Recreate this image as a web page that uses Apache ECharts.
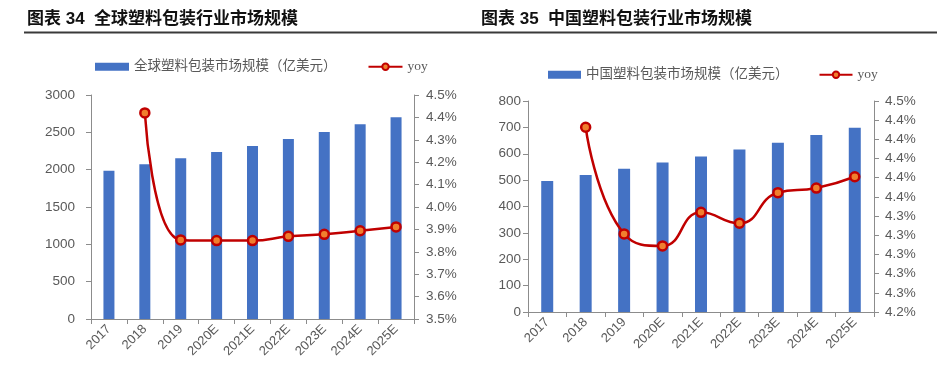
<!DOCTYPE html>
<html>
<head>
<meta charset="utf-8">
<script src="https://cdn.jsdelivr.net/npm/echarts@6/dist/echarts.min.js"></script>
<style>
html,body{margin:0;padding:0;background:#fff;}
#c{width:941px;height:372px;}
</style>
</head>
<body>
<div id="c"></div>
<script>
// ---- data ----
const categories = ['2017','2018','2019','2020E','2021E','2022E','2023E','2024E','2025E'];
const globalName = '全球塑料包装市场规模（亿美元）';
const globalSize = [1987, 2071, 2152, 2237, 2317, 2411, 2504, 2607, 2701];
const globalYoy = [null, 4.42, 3.853, 3.850, 3.850, 3.869, 3.878, 3.894, 3.911]; // percent
const chinaName = '中国塑料包装市场规模（亿美元）';
const chinaSize = [497, 519, 543, 567, 590, 616, 642, 671, 699];
const chinaYoy = [null, 4.4326, 4.3214, 4.3089, 4.3439, 4.3325, 4.3644, 4.3692, 4.381]; // percent
const leftTicks = {min: 0, max: 3000, interval: 500};
const leftPctTicks = {min: 350, max: 450, interval: 10};   // in 0.01% units
const rightTicks = {min: 0, max: 800, interval: 100};
const rightPctTicks = {min: 424, max: 446, interval: 2};   // in 0.01% units
const title1 = '图表 34  全球塑料包装行业市场规模';
const title2 = '图表 35  中国塑料包装行业市场规模';

// ---- styles ----
const axisColor = '#8C8C8C';
const labelColor = '#595959';
const barColor = '#4472C4';
const lineColor = '#C00000';
const dotColor = '#F07F2E';
const numFont = "'Liberation Sans', Arial, sans-serif";
const legFont = "'Liberation Serif', 'Noto Sans CJK SC', serif";

const toBp = arr => arr.map(v => v == null ? null : v * 100);
const pctFmt = v => (v / 100).toFixed(1) + '%';
const numFmt = v => String(v);

function xAxis(gi) {
  return {
    type: 'category', gridIndex: gi, data: categories,
    axisLine: {lineStyle: {color: axisColor, width: 1}},
    axisTick: {show: true, length: 5, lineStyle: {color: axisColor}},
    axisLabel: {rotate: 45, color: labelColor, fontSize: 13, fontFamily: numFont, margin: 8, interval: 0}
  };
}
function yAxis(gi, t, pos, margin, fmt) {
  return Object.assign({
    type: 'value', gridIndex: gi, position: pos,
    splitLine: {show: false},
    axisLine: {show: true, lineStyle: {color: axisColor}},
    axisTick: {show: true, length: 5, lineStyle: {color: axisColor}},
    axisLabel: {color: labelColor, fontSize: 13.5, fontFamily: numFont, margin: margin, formatter: fmt}
  }, t);
}
function lineSeries(xi, yi, data) {
  return {
    name: 'yoy', type: 'line', xAxisIndex: xi, yAxisIndex: yi, data: data,
    smooth: 0.5, connectNulls: false,
    symbol: 'circle', symbolSize: 9, showSymbol: true,
    lineStyle: {color: lineColor, width: 2.5},
    itemStyle: {color: dotColor, borderColor: lineColor, borderWidth: 2.5},
    z: 3
  };
}

const chart = echarts.init(document.getElementById('c'), null, {renderer: 'canvas'});
chart.setOption({
  animation: false,
  backgroundColor: '#fff',
  graphic: [
    {type: 'text', left: 27, top: 11, style: {text: title1, font: "bold 17px 'Liberation Sans', 'Noto Sans CJK SC', sans-serif", fill: '#111'}},
    {type: 'text', left: 481, top: 11, style: {text: title2, font: "bold 17px 'Liberation Sans', 'Noto Sans CJK SC', sans-serif", fill: '#111'}},
    {type: 'line', shape: {x1: 24, y1: 32.5, x2: 937, y2: 32.5}, style: {stroke: '#3a3a3a', lineWidth: 2}}
  ],
  legend: [
    {left: 90, top: 55, itemWidth: 34, itemHeight: 8, itemGap: 31,
     data: [{name: globalName, icon: 'rect'}, 'yoy'],
     textStyle: {color: labelColor, fontSize: 13.5, fontFamily: legFont}},
    {left: 543, top: 63, itemWidth: 33, itemHeight: 8, itemGap: 30,
     data: [{name: chinaName, icon: 'rect'}, 'yoy'],
     textStyle: {color: labelColor, fontSize: 13.5, fontFamily: legFont}}
  ],
  grid: [
    {left: 91, right: 527, top: 95, bottom: 53},
    {left: 528, right: 67, top: 101, bottom: 60}
  ],
  xAxis: [xAxis(0), xAxis(1)],
  yAxis: [
    yAxis(0, leftTicks, 'left', 16, numFmt),
    yAxis(0, leftPctTicks, 'right', 12, pctFmt),
    yAxis(1, rightTicks, 'left', 7, numFmt),
    yAxis(1, rightPctTicks, 'right', 11, pctFmt)
  ],
  series: [
    {name: globalName, type: 'bar', xAxisIndex: 0, yAxisIndex: 0, data: globalSize, barWidth: 11, itemStyle: {color: barColor}},
    lineSeries(0, 1, toBp(globalYoy)),
    {name: chinaName, type: 'bar', xAxisIndex: 1, yAxisIndex: 2, data: chinaSize, barWidth: 12, itemStyle: {color: barColor}},
    lineSeries(1, 3, toBp(chinaYoy))
  ]
});
</script>
</body>
</html>
